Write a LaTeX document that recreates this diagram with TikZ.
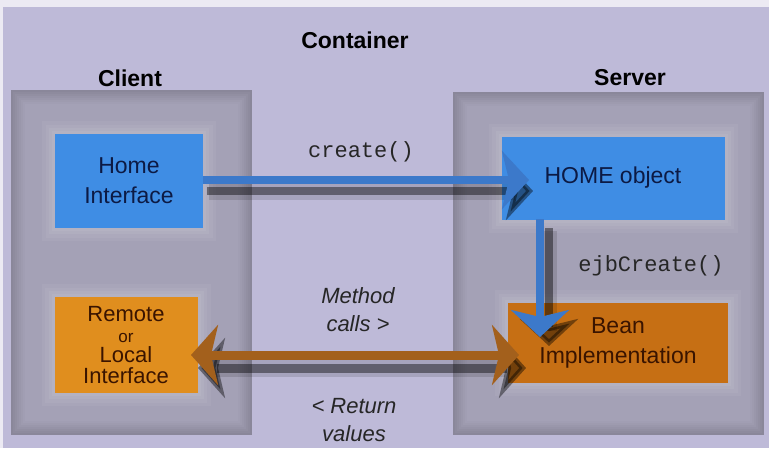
\documentclass[tikz,border=0pt]{standalone}
\usepackage{fontspec}
\setmainfont{Liberation Sans}
\setmonofont{Liberation Mono}
\usetikzlibrary{arrows.meta}
\definecolor{bglav}{HTML}{BEBAD8}
\definecolor{paneledge}{HTML}{8A879A}
\definecolor{panelin}{HTML}{A4A1B6}
\definecolor{boxblue}{HTML}{3F8DE4}
\definecolor{arrblue}{HTML}{3C79CA}
\definecolor{boxorange}{HTML}{E08E1E}
\definecolor{beanorange}{HTML}{C66F14}
\definecolor{arrbrown}{HTML}{A3601C}
\definecolor{navytext}{HTML}{0C1A44}
\definecolor{browntext}{HTML}{3A1400}
\tikzset{
  head/.style={font=\bfseries\fontsize{23}{26}\selectfont, text=black, inner sep=0pt},
  monolabel/.style={font=\ttfamily\fontsize{22}{26}\selectfont, text=black!85, inner sep=0pt},
  itallabel/.style={font=\itshape\fontsize{22}{28}\selectfont, text=black!85, align=center, inner sep=0pt},
  glow/.style={preaction={draw=white, line width=26pt, opacity=0.05},
               preaction={draw=white, line width=19pt, opacity=0.05},
               preaction={draw=white, line width=12pt, opacity=0.06},
               preaction={draw=white, line width=6pt, opacity=0.06}},
  bluebox/.style={glow, fill=boxblue, text=navytext, align=center, inner sep=0pt,
                  font=\fontsize{23}{30}\selectfont},
  orangebox/.style={glow, fill=boxorange, text=browntext, align=center, inner sep=0pt,
                  font=\fontsize{22}{20.5}\selectfont},
  beanbox/.style={glow, fill=beanorange, text=browntext, align=center, inner sep=0pt,
                  font=\fontsize{23}{30}\selectfont},
  shadowline/.style={draw=black, opacity=0.42},
  blurline/.style={draw=black, opacity=0.12},
  tipA/.style={-{Stealth[length=27pt,width=58pt,inset=7pt]}},
  bluearrow/.style={draw=arrblue, line width=8pt, tipA},
  bluearrowshadow/.style={shadowline, line width=8pt, tipA},
  brownarrow/.style={draw=arrbrown, line width=9pt,
     {Stealth[length=27pt,width=60pt,inset=7pt]}-{Stealth[length=27pt,width=60pt,inset=7pt]}},
  brownarrowshadow/.style={shadowline, line width=9pt,
     {Stealth[length=27pt,width=60pt,inset=7pt]}-{Stealth[length=27pt,width=60pt,inset=7pt]}},
}
\newcommand{\panelrect}[4]{%
  \fill[paneledge] (#1,#2) rectangle (#3,#4);
  \foreach \i/\c in {2/15,4/30,6/45,8/60,10/75,12/90,14/100}
    \fill[panelin!\c!paneledge] (#1+\i,#2+\i) rectangle (#3-\i,#4-\i);
}
\begin{document}
\begin{tikzpicture}[x=1pt,y=-1pt]
\useasboundingbox (0,0) rectangle (769,448);
\fill[white!70!bglav] (0,0) rectangle (769,448);
\fill[bglav] (3,7) rectangle (769,448);

% panels
\panelrect{11}{90}{252}{435}
\panelrect{453}{92}{764}{435}

% headings
\node[head] (container) at (355,40) {Container};
\node[head] (clientt) at (130,78) {Client};
\node[head] (servert) at (630,78) {Server};

% boxes
\node[bluebox, minimum width=148pt, minimum height=94pt] (hi) at (129,181) {Home\\Interface};
\node[bluebox, minimum width=223pt, minimum height=83pt] (ho) at (613,178) {HOME object};
\node[orangebox, minimum width=143pt, minimum height=96pt] (rl) at (126,345)
  {Remote\\{\fontsize{17}{17}\selectfont or}\\Local\\Interface};
\node[beanbox, minimum width=220pt, minimum height=80pt] (bi) at (618,343) {Bean\\Implementation};

% arrow tips
\coordinate (ctip) at (529,180);
\coordinate (ejbstart) at (540,219);
\coordinate (etip) at (540,337);
\coordinate (ltip) at (191,355);
\coordinate (rtip) at (519,355);

% shadows
\draw[blurline, line width=16pt] ([shift={(6,12)}]hi.east |- ctip) -- ([shift={(-14,12)}]ctip);
\draw[bluearrowshadow] ([shift={(4,11)}]hi.east |- ctip) -- ([shift={(4,11)}]ctip);
\draw[blurline, line width=16pt] ([shift={(9,12)}]ejbstart) -- ([shift={(9,-6)}]etip);
\draw[bluearrowshadow] ([shift={(9,9)}]ejbstart) -- ([shift={(9,9)}]etip);
\draw[blurline, line width=18pt] ([shift={(20,13)}]ltip) -- ([shift={(-14,13)}]rtip);
\draw[brownarrowshadow] ([shift={(7,13)}]ltip) -- ([shift={(7,13)}]rtip);

% arrows
\draw[bluearrow] (hi.east |- ctip) -- (ctip);
\draw[bluearrow] (ejbstart) -- (etip);
\draw[brownarrow] (ltip) -- (rtip);

% labels
\node[monolabel] (lcreate) at (361,152) {create()};
\node[monolabel] (lejb) at (651,266) {ejbCreate()};
\node[itallabel] (lmethod) at (358,310) {Method\\calls >};
\node[itallabel] (lreturn) at (354,420) {< Return\\values};
\end{tikzpicture}
\end{document}
